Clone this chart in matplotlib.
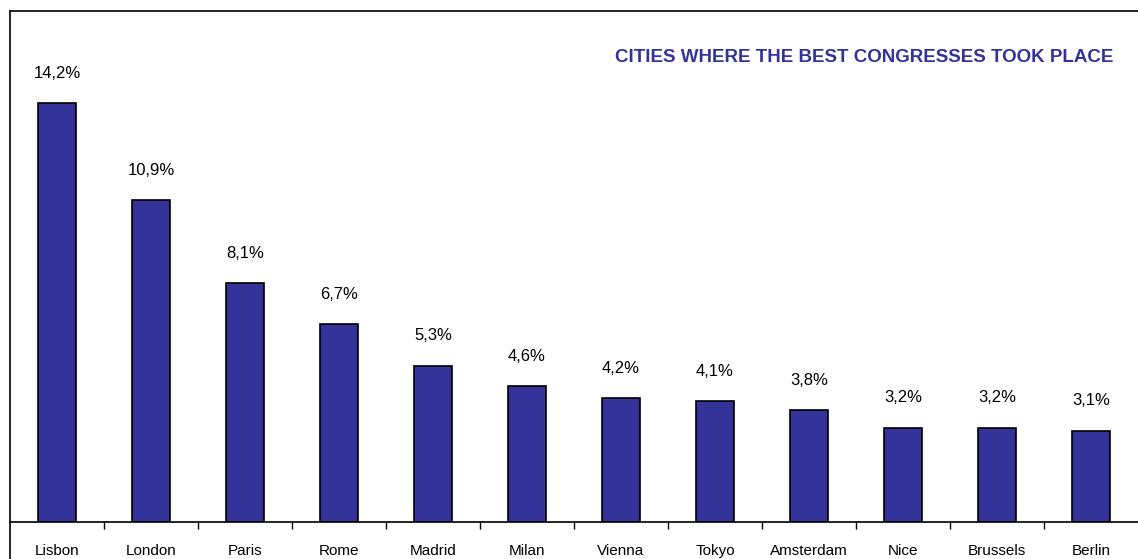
import matplotlib.pyplot as plt
from matplotlib.lines import Line2D

cities = ["Lisbon", "London", "Paris", "Rome", "Madrid", "Milan", "Vienna",
          "Tokyo", "Amsterdam", "Nice", "Brussels", "Berlin"]
shares = [14.2, 10.9, 8.1, 6.7, 5.3, 4.6, 4.2, 4.1, 3.8, 3.2, 3.2, 3.1]
labels = ["14,2%", "10,9%", "8,1%", "6,7%", "5,3%", "4,6%", "4,2%", "4,1%",
          "3,8%", "3,2%", "3,2%", "3,1%"]

plt.rcParams['font.family'] = ['Liberation Sans', 'DejaVu Sans']

W, H = 1138, 559
fig = plt.figure(figsize=(W / 100, H / 100), dpi=100)
ax = fig.add_axes([10 / W, 1 - 522 / H, 1 - 10 / W, (522 - 11) / H])

x = range(len(cities))
ax.bar(x, shares, width=0.41, color="#333399", edgecolor="black", linewidth=1.2)
for xi, v, lab in zip(x, shares, labels):
    ax.annotate(lab, (xi, v), xytext=(0, 21.5), textcoords="offset points",
                ha="center", va="center", fontsize=12)

ax.set_xlim(-0.5, len(cities) - 0.5)
ax.set_ylim(0, 17.32)
ax.set_xticks(list(x))
ax.set_xticklabels(cities, fontsize=11)
ax.tick_params(axis="x", which="major", length=0, pad=16)
ax.set_xticks([i + 0.5 for i in range(len(cities) - 1)], minor=True)
ax.tick_params(axis="x", which="minor", length=5, direction="out", width=1)
ax.set_yticks([])
for s in ["left", "right", "top"]:
    ax.spines[s].set_visible(False)
ax.spines["bottom"].set_linewidth(1.2)

# outer frame: left and top lines
fig.add_artist(Line2D([10 / W, 10 / W], [0, 1 - 11 / H], color="black", lw=1.2))
fig.add_artist(Line2D([10 / W, 1], [1 - 11 / H, 1 - 11 / H], color="black", lw=1.2))

fig.text(1113 / W, 1 - 57 / H, "CITIES WHERE THE BEST CONGRESSES TOOK PLACE",
         ha="right", va="center", fontsize=13.5, fontweight="bold", color="#333399")

fig.savefig("out.png", dpi=100)
